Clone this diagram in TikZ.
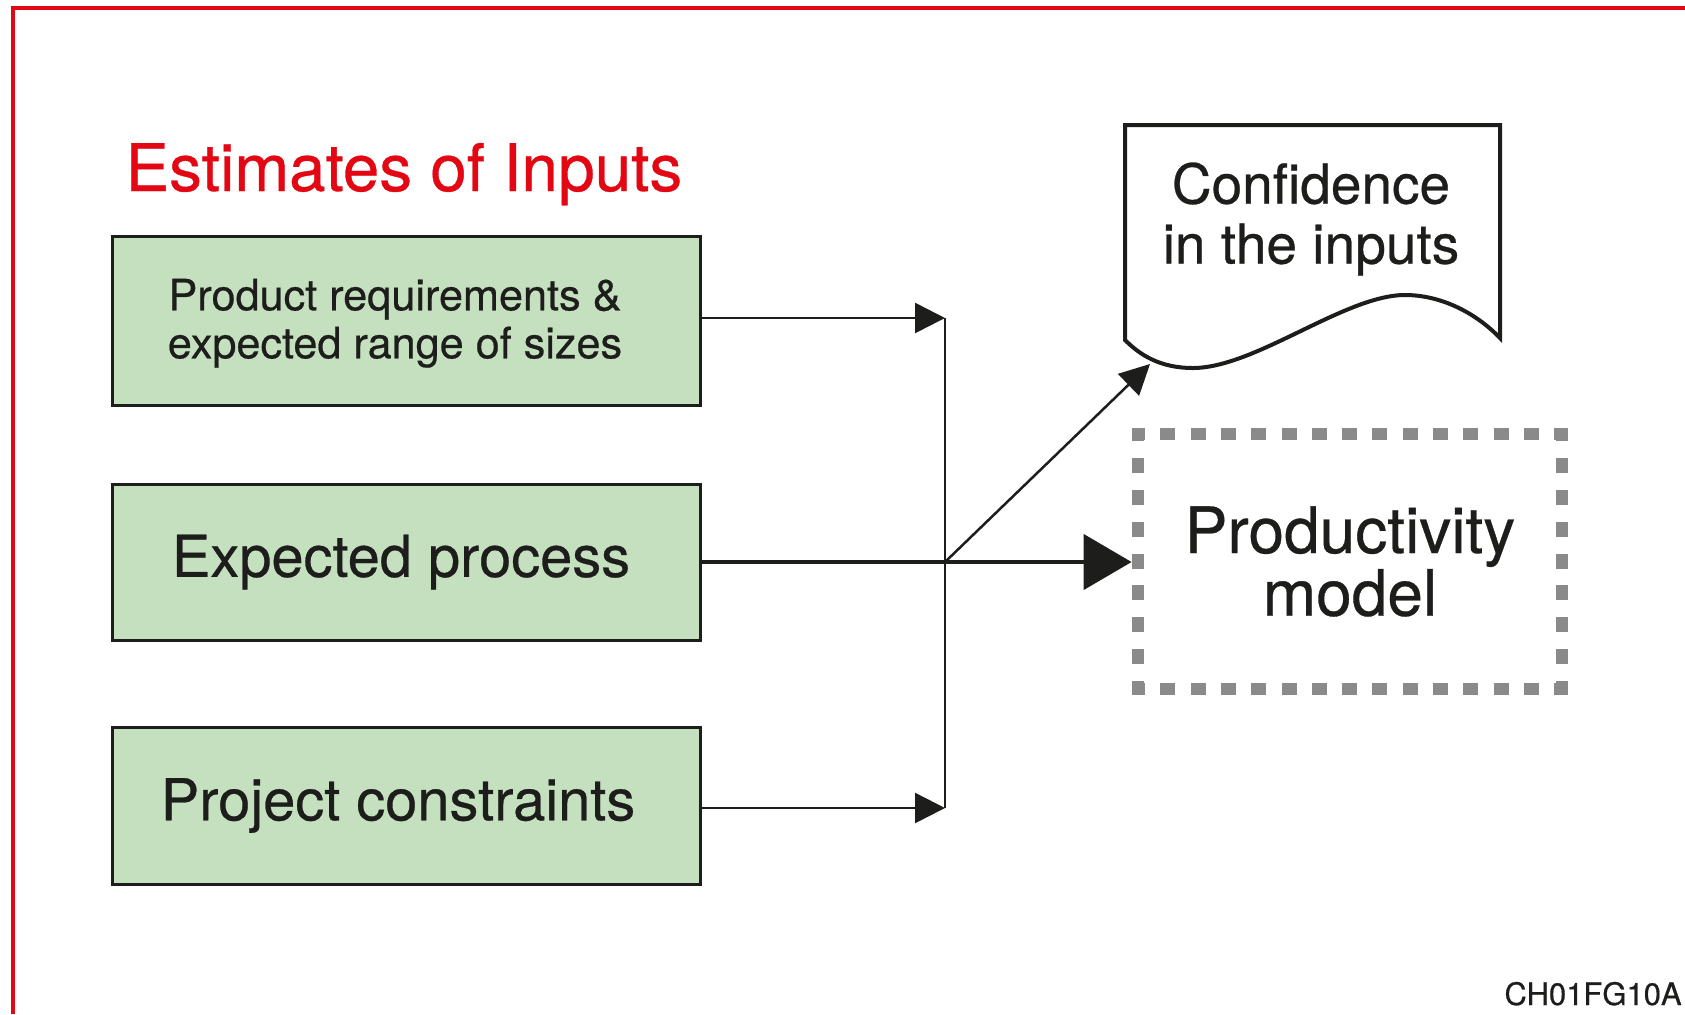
\documentclass[tikz,border=0pt]{standalone}
\usepackage{fontspec}
\setmainfont{TeX Gyre Heros}[FakeBold=0.5]
\usetikzlibrary{arrows.meta}
\definecolor{redc}{HTML}{E30613}
\definecolor{greenfill}{HTML}{C5E0BF}
\definecolor{ink}{HTML}{1D1D1B}
\definecolor{dotgray}{HTML}{8A8A8A}
\begin{document}
\begin{tikzpicture}[x=0.5pt,y=-0.5pt,
  inputbox/.style={draw=ink,line width=1.5pt,fill=greenfill,minimum width=294pt,inner sep=0pt,align=center,text=ink},
  bigtext/.style={font=\fontsize{28.9}{32}\selectfont},
  thinline/.style={draw=ink,line width=1.25pt},
  thinarrow/.style={thinline,-{Triangle[length=15pt,width=15pt]}},
  thickarrow/.style={draw=ink,line width=2.25pt,-{Triangle[length=24pt,width=27.5pt]}},
  dotsh/.style={draw=dotgray,line width=6pt,line cap=rect,dash pattern=on 1.5pt off 13.643pt,dash phase=0.75pt},
  dotsv/.style={draw=dotgray,line width=6pt,line cap=rect,dash pattern=on 1.5pt off 14.4375pt,dash phase=0.75pt},
  docline/.style={draw=ink,line width=2pt,line join=miter}]
\useasboundingbox (0,0) rectangle (1685,1014);
\fill[white] (0,0) rectangle (1685,1014);
\draw[redc,line width=2pt] (1685,7.5) -- (13,7.5) -- (13,1014);

% title
\node[anchor=base west,inner sep=0pt,text=redc,font=\fontsize{32.8}{39}\selectfont] (title) at (125,191) {Estimates of Inputs};

% input boxes
\node[inputbox,minimum height=84.5pt,font=\fontsize{21.6}{24}\selectfont,text depth=2pt] (b1) at (406,320.5) {\hspace*{-11pt}Product requirements \&\\\hspace*{-11pt}expected range of sizes};
\node[inputbox,minimum height=78pt,bigtext] (b2) at (406,562) {\hspace*{-5pt}Expected process};
\node[inputbox,minimum height=78.5pt,bigtext] (b3) at (406,805.5) {\hspace*{-8pt}Project constraints};

% document shape
\draw[docline] (1125,340) -- (1125,125) -- (1500,125) -- (1500,338)
  .. controls (1475,312) and (1440,295) .. (1405,295)
  .. controls (1345,295) and (1255,368) .. (1193,368)
  .. controls (1160,368) and (1140,355) .. (1125,340) -- cycle;
\node[inner sep=0pt,align=center,text=ink,font=\fontsize{27.5}{30}\selectfont] (conf) at (1311,219) {Confidence\\in the inputs};

% productivity model
\node[minimum width=218pt,minimum height=133.5pt,inner sep=0pt,align=center,text=ink,font=\fontsize{32}{30}\selectfont] (pm) at (1350,561.5) {Productivity\\model};
\coordinate (d1) at ([shift={(3pt,-3pt)}]pm.north west);
\coordinate (d2) at ([shift={(-3pt,-3pt)}]pm.north east);
\coordinate (d3) at ([shift={(-3pt,3pt)}]pm.south east);
\coordinate (d4) at ([shift={(3pt,3pt)}]pm.south west);
\draw[dotsh] (d1) -- (d2);
\draw[dotsh] (d4) -- (d3);
\draw[dotsv] (d1) -- (d4);
\draw[dotsv] (d2) -- (d3);

% code label
\node[anchor=base east,inner sep=0pt,text=ink,font=\fontsize{15.5}{18}\selectfont] (code) at (1682,1005) {CH01FG10A};

% connectors
\coordinate (j) at (945,562);
\coordinate (dtip) at (1150,364);
\coordinate (s1) at ([yshift=1.25pt]b1.east);
\coordinate (s3) at ([yshift=-1.25pt]b3.east);
\draw[thinline] (s1 -| j) -- (s3 -| j);
\draw[thinarrow] (s1) -- (s1 -| j);
\draw[thinarrow] (s3) -- (s3 -| j);
\draw[thickarrow] (b2.east) -- (b2.east -| pm.west);
\draw[thinarrow] (j) -- (dtip);
\end{tikzpicture}
\end{document}
